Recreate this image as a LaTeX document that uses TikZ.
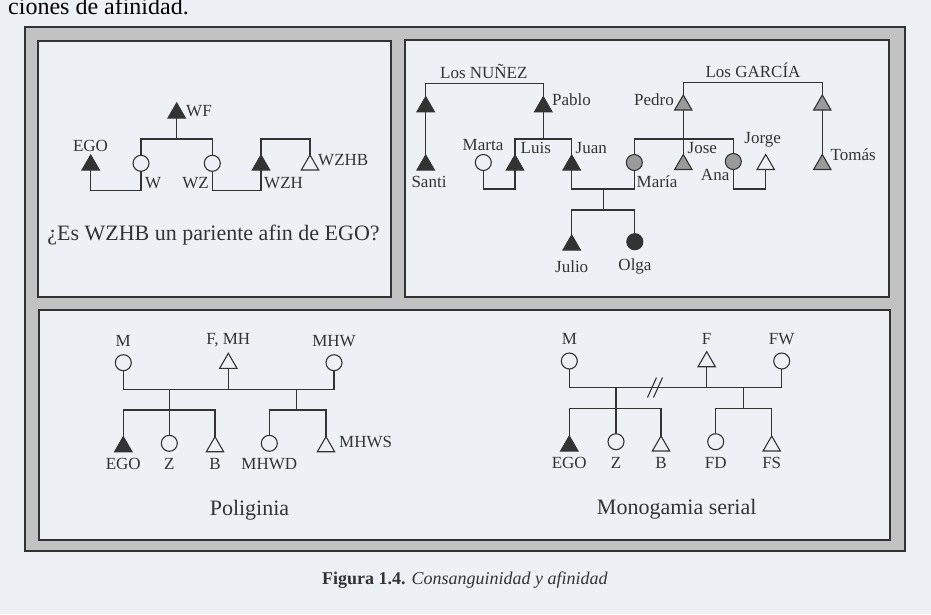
\documentclass[tikz,border=0pt]{standalone}
\usepackage{fontspec}
\setmainfont{Liberation Serif}
\usetikzlibrary{shapes.geometric}
\definecolor{paper}{HTML}{EDF1F5}
\definecolor{ink}{HTML}{333333}
\definecolor{framegray}{HTML}{C2C2C2}
\definecolor{midgray}{HTML}{9A9A9A}
\tikzset{
  male/.style={regular polygon, regular polygon sides=3, minimum size=20pt, inner sep=0pt, outer sep=0pt, draw=ink, line width=1.1pt, fill=paper},
  female/.style={circle, minimum size=16pt, inner sep=0pt, outer sep=0pt, draw=ink, line width=1.1pt, fill=paper},
  dark/.style={fill=ink},
  grey/.style={fill=midgray},
  lbl/.style={inner sep=0pt, font=\fontsize{17}{20}\selectfont, text=ink},
  title/.style={inner sep=0pt, font=\fontsize{22}{26}\selectfont, text=ink},
  link/.style={draw=ink, line width=1.1pt},
  panel/.style={fill=paper, draw=ink, line width=1.4pt},
}
\begin{document}
\begin{tikzpicture}[x=1pt, y=-1pt]
\useasboundingbox[fill=paper] (0,0) rectangle (931,614);
\begin{scope}
\clip (0,0) rectangle (931,614);
\node[anchor=base west, inner sep=0pt, font=\fontsize{24}{28}\selectfont, text=black] (toptext) at (8,14) {ciones de afinidad.};
\end{scope}
% frame
\path[fill=framegray, draw=ink, line width=1.4pt] (25,27) rectangle (905,551);
\path[panel] (38,41) rectangle (391,297);
\path[panel] (405,40) rectangle (889,297);
\path[panel] (39,310) rectangle (890,540);
% caption
\node[anchor=base west, inner sep=0pt, font=\fontsize{18}{22}\selectfont, text=ink] (caption) at (322,584) {\textbf{Figura 1.4.} \textit{Consanguinidad y afinidad}};

% ---------- top-left ----------
\coordinate (tlbar) at (0,139);
\coordinate (tlmar) at (0,190.7);
\node[male, dark] (WF) at (176.7,113) {};
\node[female] (W) at (141,163.3) {};
\node[female] (WZ) at (212.3,163.3) {};
\node[male, dark] (EGO) at (90.7,165) {};
\node[male, dark] (WZH) at (261,165) {};
\node[male] (WZHB) at (310,165) {};
\draw[link] (WF.south) -- (WF.south |- tlbar);
\draw[link] (W.north) -- (W.north |- tlbar) -| (WZ.north);
\draw[link] (EGO.south) -- (EGO.south |- tlmar) -| (W.south);
\draw[link] (WZ.south) -- (WZ.south |- tlmar) -| (WZH.south);
\draw[link] (WZH.north) -- (WZH.north |- tlbar) -| (WZHB.north);
\node[lbl] (lEGO) at (90.5,146) {EGO};
\node[lbl, anchor=west] (lWF) at (186,111) {WF};
\node[lbl, anchor=west] (lW) at (145,183) {W};
\node[lbl, anchor=east] (lWZ) at (209,183) {WZ};
\node[lbl, anchor=west] (lWZH) at (264,183) {WZH};
\node[lbl, anchor=west] (lWZHB) at (318,160) {WZHB};
\node[title] (question) at (213.5,235) {¿Es WZHB un pariente afin de EGO?};

% ---------- top-right ----------
\coordinate (nbar) at (0,83.3);
\coordinate (gbar) at (0,82.7);
\coordinate (cbar) at (0,139);
\coordinate (mline) at (0,189);
\coordinate (kbar) at (0,210);
\node[male, dark] (SF) at (425.7,106.7) {};
\node[male, dark] (Pablo) at (543.3,106.7) {};
\node[male, dark] (Santi) at (425.7,165) {};
\node[female] (Marta) at (483.3,162.5) {};
\node[male, dark] (Luis) at (515,165) {};
\node[male, dark] (Juan) at (571.7,165) {};
\node[female, grey] (Maria) at (634.3,162.5) {};
\node[male, dark] (Julio) at (571.7,245) {};
\node[female, dark] (Olga) at (634.8,241.7) {};
\node[male, grey] (Pedro) at (683.3,105) {};
\node[male, grey] (GT) at (822.3,105) {};
\node[male, grey] (Jose) at (683.3,164.5) {};
\node[female, grey] (Ana) at (733.3,161.5) {};
\node[male] (Jorge) at (765.7,164.5) {};
\node[male, grey] (Tomas) at (822.3,164.5) {};
\coordinate (jm) at (603.3,189);
\draw[link] (SF.north) -- (SF.north |- nbar) -| (Pablo.north);
\draw[link] (SF.south) -- (Santi.north);
\draw[link] (Pablo.south) -- (Pablo.south |- cbar);
\draw[link] (Luis.north) -- (Luis.north |- cbar) -| (Juan.north);
\draw[link] (Marta.south) -- (Marta.south |- mline) -| (Luis.south);
\draw[link] (Juan.south) -- (Juan.south |- mline) -| (Maria.south);
\draw[link] (jm) -- (jm |- kbar);
\draw[link] (Julio.north) -- (Julio.north |- kbar) -| (Olga.north);
\draw[link] (Pedro.north) -- (Pedro.north |- gbar) -| (GT.north);
\draw[link] (GT.south) -- (Tomas.north);
\draw[link] (Pedro.south) -- (Jose.north);
\draw[link] (Maria.north) -- (Maria.north |- cbar) -| (Ana.north);
\draw[link] (Ana.south) -- (Ana.south |- mline) -| (Jorge.south);
\node[lbl] (lNunez) at (483.8,71.7) {Los NUÑEZ};
\node[lbl, anchor=west] (lPablo) at (552,99.3) {Pablo};
\node[lbl] (lSanti) at (429,181.7) {Santi};
\node[lbl] (lMarta) at (483,145) {Marta};
\node[lbl, anchor=west] (lLuis) at (520.5,148.3) {Luis};
\node[lbl, anchor=west] (lJuan) at (575.5,148.3) {Juan};
\node[lbl, anchor=west] (lMaria) at (636.5,181.7) {María};
\node[lbl] (lJulio) at (571.7,266.7) {Julio};
\node[lbl] (lOlga) at (635,266.7) {Olga};
\node[lbl] (lGarcia) at (753,70) {Los GARCÍA};
\node[lbl, anchor=east] (lPedro) at (674,99.3) {Pedro};
\node[lbl, anchor=west] (lJose) at (687.5,148.3) {Jose};
\node[lbl, anchor=east] (lAna) at (729.5,175) {Ana};
\node[lbl] (lJorge) at (762.7,140) {Jorge};
\node[lbl, anchor=west] (lTomas) at (830.5,155) {Tomás};

% ---------- bottom-left ----------
\coordinate (pb1) at (0,389.3);
\coordinate (pb2) at (0,410);
\coordinate (pd2) at (296.7,0);
\node[female] (pM) at (123.3,362.7) {};
\node[male] (pF) at (228.3,363.3) {};
\node[female] (pMHW) at (334,362.7) {};
\node[male, dark] (pEGO) at (123.3,446.7) {};
\node[female] (pZ) at (169.3,443.3) {};
\node[male] (pB) at (215,446.7) {};
\node[female] (pMHWD) at (269.3,443.3) {};
\node[male] (pMHWS) at (326,446.7) {};
\draw[link] (pM.south) -- (pM.south |- pb1) -| (pMHW.south);
\draw[link] (pF.south) -- (pF.south |- pb1);
\draw[link] (pZ.north) -- (pZ.north |- pb1);
\draw[link] (pEGO.north) -- (pEGO.north |- pb2) -| (pB.north);
\draw[link] (pd2 |- pb1) -- (pd2 |- pb2);
\draw[link] (pMHWD.north) -- (pMHWD.north |- pb2) -| (pMHWS.north);
\node[lbl] (lpM) at (123.3,340.7) {M};
\node[lbl] (lpF) at (228.3,340.7) {F, MH};
\node[lbl] (lpMHW) at (334,340.7) {MHW};
\node[lbl] (lpEGO) at (123.3,464) {EGO};
\node[lbl] (lpZ) at (169.3,464) {Z};
\node[lbl] (lpB) at (215,464) {B};
\node[lbl] (lpMHWD) at (269.3,464) {MHWD};
\node[lbl, anchor=west] (lpMHWS) at (339,441.7) {MHWS};
\node[title] (poliginia) at (249.5,510.7) {Poliginia};

% ---------- bottom-right ----------
\coordinate (sb1) at (0,387.7);
\coordinate (sb2) at (0,408.3);
\coordinate (sd2) at (743.3,0);
\node[female] (sM) at (569.3,361) {};
\node[male] (sF) at (706.7,361.7) {};
\node[female] (sFW) at (781.7,361) {};
\node[male, dark] (sEGO) at (569.3,446) {};
\node[female] (sZ) at (616,441.7) {};
\node[male] (sB) at (661,446) {};
\node[female] (sFD) at (715.7,441.7) {};
\node[male] (sFS) at (771.7,446) {};
\draw[link] (sM.south) -- (sM.south |- sb1) -| (sFW.south);
\draw[link] (sF.south) -- (sF.south |- sb1);
\draw[link] (sZ.north) -- (sZ.north |- sb1);
\draw[link] (sEGO.north) -- (sEGO.north |- sb2) -| (sB.north);
\draw[link] (sd2 |- sb1) -- (sd2 |- sb2);
\draw[link] (sFD.north) -- (sFD.north |- sb2) -| (sFS.north);
\coordinate (sl1a) at (647.5,397.5);
\coordinate (sl1b) at (656.5,377.5);
\coordinate (sl2a) at (653.5,397.5);
\coordinate (sl2b) at (662.5,377.5);
\draw[link] (sl1a) -- (sl1b);
\draw[link] (sl2a) -- (sl2b);
\node[lbl] (lsM) at (569.3,339.3) {M};
\node[lbl] (lsF) at (706.7,339.3) {F};
\node[lbl] (lsFW) at (781.7,339.3) {FW};
\node[lbl] (lsEGO) at (569.3,462.7) {EGO};
\node[lbl] (lsZ) at (616,462.7) {Z};
\node[lbl] (lsB) at (661,462.7) {B};
\node[lbl] (lsFD) at (715.7,462.7) {FD};
\node[lbl] (lsFS) at (771.7,462.7) {FS};
\node[title] (monogamia) at (676.7,509.3) {Monogamia serial};
\end{tikzpicture}
\end{document}
